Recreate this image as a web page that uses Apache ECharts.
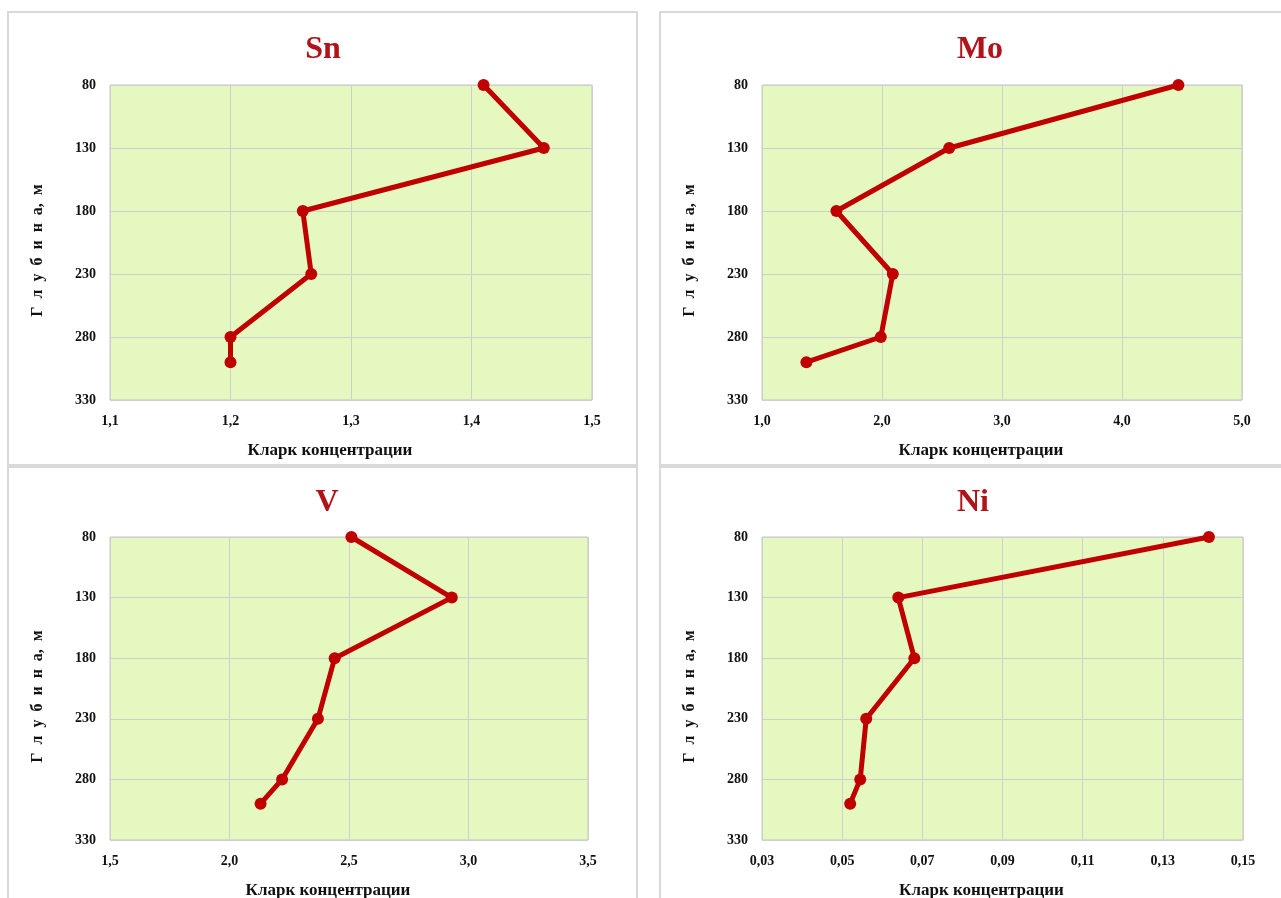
<!DOCTYPE html>
<html>
<head>
<meta charset="utf-8">
<title>Кларк концентрации по глубине</title>
<script src="https://cdn.jsdelivr.net/npm/echarts@6/dist/echarts.min.js"></script>
<style>
  html, body { margin: 0; padding: 0; background: #ffffff; }
  #chart { width: 1281px; height: 898px; }
</style>
</head>
<body>
<div id="chart"></div>
<script>
// Sampling depths, m (shared by all elements)
const depths = [80, 130, 180, 230, 280, 300];
const depthTicks = { min: 80, max: 330, step: 50 };

// Clarke concentration values by element
const elements = ['Sn', 'Mo', 'V', 'Ni'];
const snValues = [1.41, 1.46, 1.26, 1.267, 1.20, 1.20];
const moValues = [4.47, 2.56, 1.62, 2.09, 1.99, 1.37];
const vValues  = [2.51, 2.93, 2.44, 2.37, 2.22, 2.13];
const niValues = [0.1415, 0.064, 0.068, 0.056, 0.0545, 0.052];

// X-axis ranges: [min, max, step, decimals]
const snAxis = [1.1, 1.5, 0.1, 1];
const moAxis = [1.0, 5.0, 1.0, 1];
const vAxis  = [1.5, 3.5, 0.5, 1];
const niAxis = [0.03, 0.15, 0.02, 2];

const xAxisName = 'Кларк концентрации';
// letter-spaced depth caption (en spaces between letters)
const yAxisName = 'Г\u2002л\u2002у\u2002б\u2002и\u2002н\u2002а,\u2002м';

const serif = "'Liberation Serif', 'Times New Roman', serif";
const lineColor = '#c00000';
const titleColor = '#b0141a';

const panels = [
  { values: snValues, axis: snAxis, grid: { left: 110, top: 85, width: 482, height: 315 }, title: [318, 29] },
  { values: moValues, axis: moAxis, grid: { left: 762, top: 85, width: 480, height: 315 }, title: [975, 29] },
  { values: vValues,  axis: vAxis,  grid: { left: 110, top: 537, width: 478, height: 303 }, title: [322, 482] },
  { values: niValues, axis: niAxis, grid: { left: 762, top: 537, width: 481, height: 303 }, title: [968, 482] }
];

const frameStyle = { fill: 'none', stroke: '#d9d9d9', lineWidth: 2 };

const option = {
  backgroundColor: '#ffffff',
  animation: false,
  title: [],
  grid: [],
  xAxis: [],
  yAxis: [],
  series: [],
  graphic: [
    // panel frames
    { type: 'rect', shape: { x: 8, y: 12, width: 629, height: 453 }, style: frameStyle, silent: true },
    { type: 'rect', shape: { x: 660, y: 12, width: 660, height: 453 }, style: frameStyle, silent: true },
    { type: 'rect', shape: { x: 8, y: 467, width: 629, height: 460 }, style: frameStyle, silent: true },
    { type: 'rect', shape: { x: 660, y: 467, width: 660, height: 460 }, style: frameStyle, silent: true }
  ]
};

panels.forEach((p, i) => {
  const [xMin, xMax, xStep, dec] = p.axis;
  option.title.push({
    text: elements[i],
    left: p.title[0],
    top: p.title[1],
    textAlign: 'center',
    textStyle: { fontFamily: serif, fontWeight: 'bold', fontSize: 32, color: titleColor }
  });
  option.grid.push(Object.assign({
    show: true,
    backgroundColor: '#e5f8c0',
    borderColor: '#c4c4c4',
    borderWidth: 1,
    containLabel: false,
    outerBoundsMode: 'none'
  }, p.grid));
  option.xAxis.push({
    type: 'value',
    gridIndex: i,
    min: xMin,
    max: xMax,
    interval: xStep,
    axisLine: { show: false },
    axisTick: { show: false },
    splitLine: { show: true, lineStyle: { color: '#cfcfcf', width: 1 } },
    axisLabel: {
      margin: 14,
      fontFamily: serif,
      fontWeight: 'bold',
      fontSize: 14,
      color: '#111',
      formatter: v => v.toFixed(dec).replace('.', ',')
    },
    name: xAxisName,
    nameLocation: 'middle',
    nameGap: 42,
    nameTextStyle: { fontFamily: serif, fontWeight: 'bold', fontSize: 17, color: '#111', padding: [0, 42, 0, 0] }
  });
  option.yAxis.push({
    type: 'value',
    gridIndex: i,
    inverse: true,
    min: depthTicks.min,
    max: depthTicks.max,
    interval: depthTicks.step,
    axisLine: { show: false },
    axisTick: { show: false },
    splitLine: { show: true, lineStyle: { color: '#cfcfcf', width: 1 } },
    axisLabel: {
      margin: 14,
      fontFamily: serif,
      fontWeight: 'bold',
      fontSize: 14,
      color: '#111'
    },
    name: yAxisName,
    nameLocation: 'middle',
    nameGap: 64,
    nameRotate: 90,
    nameTextStyle: { fontFamily: serif, fontWeight: 'bold', fontSize: 16, color: '#111', padding: [0, 16, 0, 0] }
  });
  option.series.push({
    type: 'line',
    xAxisIndex: i,
    yAxisIndex: i,
    data: p.values.map((v, k) => [v, depths[k]]),
    symbol: 'circle',
    symbolSize: 12,
    lineStyle: { color: lineColor, width: 5 },
    itemStyle: { color: lineColor },
    z: 3
  });
});

const chart = echarts.init(document.getElementById('chart'), null, { renderer: 'canvas' });
chart.setOption(option);
</script>
</body>
</html>
